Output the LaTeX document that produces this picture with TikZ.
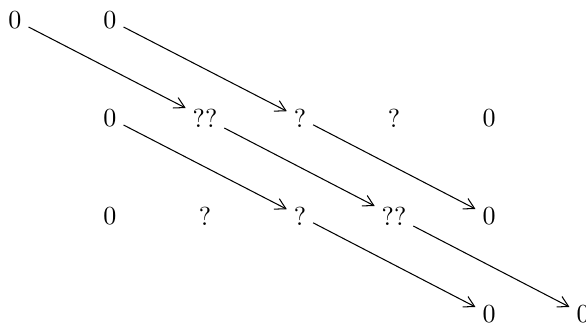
\documentclass[tikz,border=0pt]{standalone}
\usepackage{tikz}
\usetikzlibrary{arrows.meta}
\tikzset{
  entry/.style={inner sep=2.5pt, font=\normalsize},
  arr/.style={-{Straight Barb[length=4pt,width=4.5pt]}, line width=0.4pt, draw=black},
}
\begin{document}
\begin{tikzpicture}[x=0.384pt, y=-0.384pt]
    \useasboundingbox (0,0) rectangle (586,322);
    % first row
    \node[entry] (a0) at (15,20) {0};
    \node[entry] (a1) at (110,20) {0};
    % second row
    \node[entry] (b1) at (110,118) {0};
    \node[entry] (b2) at (205,118) {??};
    \node[entry] (b3) at (300,118) {?};
    \node[entry] (b4) at (394,118) {?};
    \node[entry] (b5) at (489,118) {0};
    % third row
    \node[entry] (c1) at (110,216) {0};
    \node[entry] (c2) at (205,216) {?};
    \node[entry] (c3) at (300,216) {?};
    \node[entry] (c4) at (394,216) {??};
    \node[entry] (c5) at (489,216) {0};
    % fourth row
    \node[entry] (d5) at (489,314) {0};
    \node[entry] (d6) at (583,314) {0};
    \draw[arr] (a0) -- (b2); \draw[arr] (a1) -- (b3);
    \draw[arr] (b1) -- (c3); \draw[arr] (b2) -- (c4); \draw[arr] (b3) -- (c5);
    \draw[arr] (c3) -- (d5); \draw[arr] (c4) -- (d6);
\end{tikzpicture}
\end{document}
